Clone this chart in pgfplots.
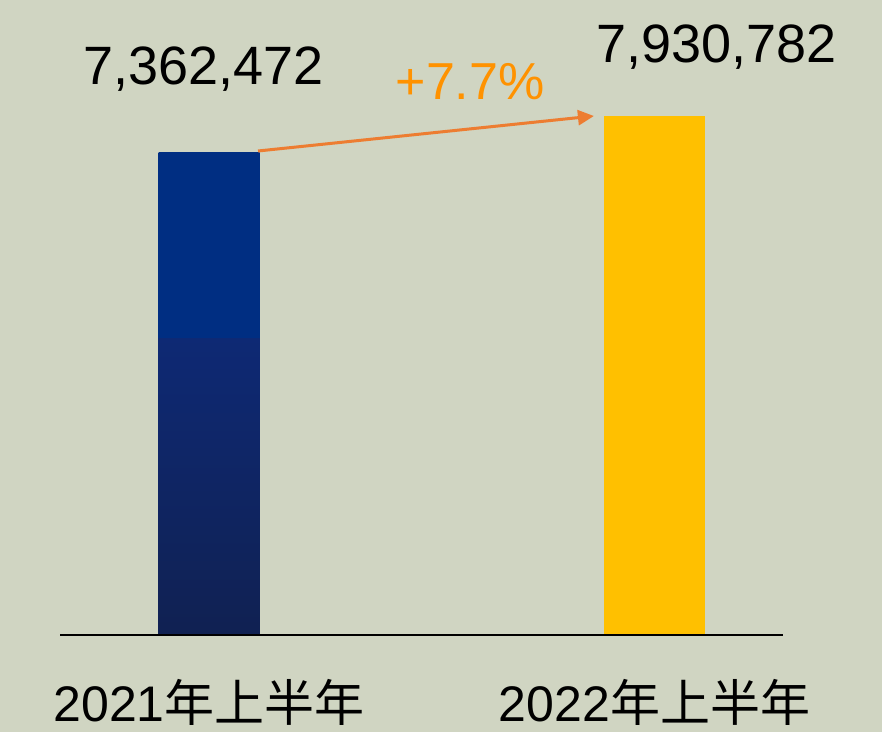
\documentclass[border=0pt]{standalone}
\usepackage{pgfplots}
\pgfplotsset{compat=1.18}
\usetikzlibrary{arrows.meta}
\usepackage{fontspec}
\setmainfont{Liberation Sans}
\newfontfamily\cjk{Noto Sans CJK SC}

\definecolor{bgc}{RGB}{208,213,194}
\definecolor{navytop}{RGB}{0,46,130}
\definecolor{navymid}{RGB}{14,41,116}
\definecolor{navybot}{RGB}{16,33,82}
\definecolor{gold}{RGB}{255,192,0}
\definecolor{arrowc}{RGB}{237,125,49}
\definecolor{pctc}{RGB}{255,146,0}

\pgfdeclareverticalshading{navybar}{100bp}{color(0bp)=(navybot); color(25bp)=(navybot); color(55.8bp)=(navymid); color(55.9bp)=(navytop); color(100bp)=(navytop)}

\begin{document}
\begin{tikzpicture}
\fill[bgc] (0,0) rectangle (441pt,366pt);
\begin{axis}[
    at={(30pt,48.5pt)}, anchor=south west,
    scale only axis,
    width=361.5pt, height=294.6pt,
    xmin=-0.3345, xmax=1.2884,
    ymin=0, ymax=9000000,
    clip=false,
    axis on top,
    hide y axis,
    axis x line*=bottom,
    axis line style={black, line width=1pt},
    xtick={0,1},
    xticklabels={2021{\cjk 年上半年}, 2022{\cjk 年上半年}},
    major tick length=0pt,
    xticklabel style={anchor=base, yshift=-43.5pt, font=\fontsize{25pt}{28pt}\selectfont, text=black},
]
\addplot[ybar, bar width=50.5pt, draw=none, shade, shading=navybar] coordinates {(0,7362472)};
\addplot[ybar, bar width=50.5pt, draw=none, fill=gold] coordinates {(1,7930782)};

\node[anchor=base, font=\fontsize{27pt}{30pt}\selectfont] at (axis cs:-0.0123,8401140) {7,362,472};
\node[anchor=base, font=\fontsize{27pt}{30pt}\selectfont] at (axis cs:1.139,8737186) {7,930,782};
\node[anchor=base, text=pctc, font=\fontsize{26pt}{29pt}\selectfont] at (axis cs:0.586,8172018) {+7.7\%};
\draw[arrowc, line width=1.5pt, -{Triangle[length=8pt,width=7.5pt]}] (axis cs:0.110,7393000) -- (axis cs:0.864,7927600);
\end{axis}
\pgfresetboundingbox
\path (0,0) rectangle (441pt,366pt);
\end{tikzpicture}
\end{document}
